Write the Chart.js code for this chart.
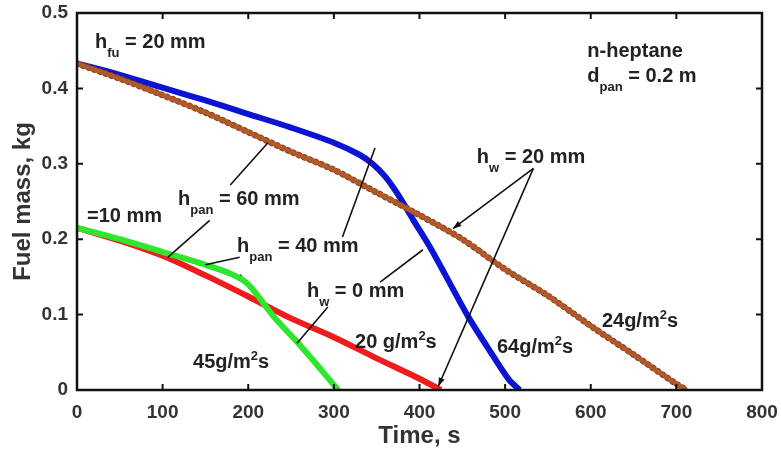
<!DOCTYPE html>
<html><head><meta charset="utf-8">
<script src="https://cdn.jsdelivr.net/npm/chart.js@4.4.1/dist/chart.umd.min.js"></script>
<style>html,body{margin:0;padding:0;background:#fff;}#wrap{width:781px;height:452px;position:relative;}</style>
</head><body><div id="wrap"><canvas id="c"></canvas></div>
<script>
// ---- data ----
const timeTicks = [0,100,200,300,400,500,600,700,800];
const massTicks = [0,0.1,0.2,0.3,0.4,0.5];

// h_w = 20 mm, h_pan = 60 mm (brown markers)
const brownTime = [0,50,100,150,200,250,300,350,400,450,500,550,600,650,700,712];
const brownMass = [0.433,0.413,0.391,0.368,0.342,0.316,0.292,0.262,0.232,0.200,0.160,0.125,0.085,0.047,0.008,0];
// h_w = 20 mm, h_pan = 40 mm (blue)
const blueTime = [0,50,100,150,200,250,300,330,345,360,375,393,412,430,457,485,505,517];
const blueMass = [0.433,0.418,0.401,0.384,0.366,0.348,0.328,0.312,0.300,0.283,0.259,0.225,0.190,0.153,0.097,0.047,0.013,0];
// h_w = 0 mm, h_pan = 60 mm (red)
const redTime = [0,50,100,150,200,250,300,350,400,425];
const redMass = [0.215,0.198,0.178,0.152,0.124,0.095,0.070,0.042,0.015,0];
// h_w = 0 mm, h_pan = 40 mm (green)
const greenTime = [0,50,100,150,180,200,230,260,285,305];
const greenMass = [0.215,0.200,0.183,0.166,0.154,0.140,0.097,0.060,0.027,0];
// linear fits (burning rates)
const fit45Time = [190,306], fit45Mass = [0.153,0];
const fit20Time = [100,425], fit20Mass = [0.177,0];
const fit24Time = [630,712], fit24Mass = [0.060,0];

// annotation pointer lines (data coords)
const pointerLines = [
  {from:[179,0.272], to:[223,0.328]},
  {from:[155,0.225], to:[106,0.176]},
  {from:[310,0.203], to:[348,0.321]},
  {from:[190,0.176], to:[150,0.166]},
  {from:[354,0.143], to:[404,0.186]},
  {from:[293,0.110], to:[257,0.062]},
  {from:[533,0.294], to:[439,0.214], arrow:true},
  {from:[533,0.294], to:[422,0.005], arrow:true}
];
// text labels: position = left/baseline in data coords; segments with sub/sup
const textLabels = [
  {at:[21,0.4536], seg:[['h'],['fu','sub'],[' = 20 mm']]},
  {at:[596,0.4416], seg:[['n-heptane']]},
  {at:[596,0.4085], seg:[['d'],['pan','sub'],[' = 0.2 m']]},
  {at:[467,0.301], seg:[['h'],['w','sub'],[' = 20 mm']]},
  {at:[118,0.2454], seg:[['h'],['pan','sub'],[' = 60 mm']]},
  {at:[11.7,0.2228], seg:[['=10 mm']]},
  {at:[187,0.183], seg:[['h'],['pan','sub'],[' = 40 mm']]},
  {at:[268.6,0.1233], seg:[['h'],['w','sub'],[' = 0 mm']]},
  {at:[135.5,0.0292], seg:[['45g/m'],['2','sup'],['s']]},
  {at:[324.7,0.0557], seg:[['20 g/m'],['2','sup'],['s']]},
  {at:[490.5,0.049], seg:[['64g/m'],['2','sup'],['s']]},
  {at:[613,0.0836], seg:[['24g/m'],['2','sup'],['s']]}
];

const zip = (xs, ys) => xs.map((x,i)=>({x:x,y:ys[i]}));
const FONT = '"Liberation Sans", Arial, sans-serif';

const frameTicks = {
  id:'frameTicks',
  afterDraw(chart){
    const {ctx, chartArea:a, scales:{x,y}} = chart;
    ctx.save();
    ctx.strokeStyle = '#111';
    ctx.lineWidth = 2;
    const L = 6;
    ctx.beginPath();
    timeTicks.slice(1,-1).forEach(v=>{
      const px = x.getPixelForValue(v);
      ctx.moveTo(px,a.bottom); ctx.lineTo(px,a.bottom-L);
      ctx.moveTo(px,a.top); ctx.lineTo(px,a.top+L);
    });
    massTicks.slice(1,-1).forEach(v=>{
      const py = y.getPixelForValue(v);
      ctx.moveTo(a.left,py); ctx.lineTo(a.left+L,py);
      ctx.moveTo(a.right,py); ctx.lineTo(a.right-L,py);
    });
    ctx.stroke();
    ctx.lineWidth = 2.5;
    ctx.strokeRect(a.left, a.top, a.right-a.left, a.bottom-a.top);
    ctx.restore();
  }
};

const annot = {
  id:'annot',
  afterDatasetsDraw(chart){
    const {ctx, scales:{x,y}} = chart;
    ctx.save();
    ctx.strokeStyle = '#111'; ctx.fillStyle='#111';
    ctx.lineWidth = 1.6;
    pointerLines.forEach(p=>{
      const x1=x.getPixelForValue(p.from[0]), y1=y.getPixelForValue(p.from[1]);
      const x2=x.getPixelForValue(p.to[0]), y2=y.getPixelForValue(p.to[1]);
      ctx.beginPath(); ctx.moveTo(x1,y1); ctx.lineTo(x2,y2); ctx.stroke();
      if(p.arrow){
        const ang=Math.atan2(y2-y1,x2-x1), h=9, w=0.35;
        ctx.beginPath();
        ctx.moveTo(x2,y2);
        ctx.lineTo(x2-h*Math.cos(ang-w), y2-h*Math.sin(ang-w));
        ctx.lineTo(x2-h*Math.cos(ang+w), y2-h*Math.sin(ang+w));
        ctx.closePath(); ctx.fill();
      }
    });
    ctx.fillStyle = '#222';
    ctx.textBaseline = 'alphabetic'; ctx.textAlign='left';
    textLabels.forEach(l=>{
      let px = x.getPixelForValue(l.at[0]);
      const py = y.getPixelForValue(l.at[1]);
      l.seg.forEach(s=>{
        let dy=0;
        if(s[1]==='sub'){ ctx.font='bold 13px '+FONT; dy=9; }
        else if(s[1]==='sup'){ ctx.font='bold 13px '+FONT; dy=-8; }
        else ctx.font='bold 20px '+FONT;
        ctx.fillText(s[0], px, py+dy);
        px += ctx.measureText(s[0]).width;
      });
    });
    ctx.restore();
  }
};

new Chart(document.getElementById('c'), {
  type:'line',
  data:{datasets:[
    {label:'green', data:zip(greenTime,greenMass), borderColor:'#2ee62e', borderWidth:6, pointRadius:0, tension:0.3},
    {label:'red', data:zip(redTime,redMass), borderColor:'#ee1c1c', borderWidth:6, pointRadius:0, tension:0.3},
    {label:'brown', data:zip(brownTime,brownMass), borderColor:'#b0592a', borderWidth:4.5, pointRadius:0, tension:0.3},
    {label:'brown beads', data:zip(brownTime,brownMass), borderColor:'#8e3912', borderWidth:6.5, borderCapStyle:'round', borderDash:[0.5,5.5], pointRadius:0, tension:0.3},
    {label:'blue', data:zip(blueTime,blueMass), borderColor:'#0a14d2', borderWidth:6, pointRadius:0, tension:0.3},
    {label:'fit45', data:zip(fit45Time,fit45Mass), borderColor:'#111', borderWidth:1.6, borderDash:[7,5], pointRadius:0},
    {label:'fit20', data:zip(fit20Time,fit20Mass), borderColor:'#111', borderWidth:1.6, borderDash:[7,5], pointRadius:0},
    {label:'fit24', data:zip(fit24Time,fit24Mass), borderColor:'#111', borderWidth:1.6, borderDash:[7,5], pointRadius:0}
  ]},
  options:{
    responsive:true, maintainAspectRatio:false, animation:false,
    layout:{padding:{top:13,right:19,left:0,bottom:0}},
    plugins:{legend:{display:false}, tooltip:{enabled:false}},
    scales:{
      x:{type:'linear', min:0, max:800,
        afterBuildTicks(s){ s.ticks = timeTicks.map(v=>({value:v})); },
        afterFit(s){ s.height = 62; s.paddingLeft = 0; s.paddingRight = 0; },
        grid:{display:false, drawTicks:false},
        border:{display:false},
        ticks:{padding:11, color:'#333', font:{family:FONT, size:19, weight:'bold'}, maxRotation:0},
        title:{display:true, text:'Time, s', color:'#333', font:{family:FONT, size:24, weight:'bold'}, padding:{top:0,bottom:1}}
      },
      y:{type:'linear', min:0, max:0.5,
        afterBuildTicks(s){ s.ticks = massTicks.map(v=>({value:v})); },
        afterFit(s){ s.width = 77; s.paddingTop = 0; s.paddingBottom = 0; },
        grid:{display:false, drawTicks:false},
        border:{display:false},
        ticks:{padding:9, color:'#333', font:{family:FONT, size:19, weight:'bold'}, callback:v=>String(+v.toFixed(1))},
        title:{display:true, text:'Fuel mass, kg', color:'#333', font:{family:FONT, size:24, weight:'bold'}, padding:{top:9,bottom:0}}
      }
    }
  },
  plugins:[frameTicks, annot]
});
</script></body></html>
